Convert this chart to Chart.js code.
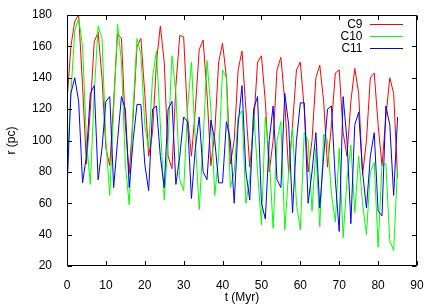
<!DOCTYPE html>
<html>
<head>
<meta charset="utf-8">
<script src="https://cdn.jsdelivr.net/npm/chart.js@4.4.1/dist/chart.umd.min.js"></script>
<style>
html,body{margin:0;padding:0;background:#fff;}
#wrap{width:436px;height:305px;}
</style>
</head>
<body>
<div id="wrap"><canvas id="c" width="436" height="305"></canvas></div>
<script>
const seriesNames = ["C9", "C10", "C11"];
const seriesColors = ["#ff0000", "#00ff00", "#0000ff"];
const xTicks = [0, 10, 20, 30, 40, 50, 60, 70, 80, 90];
const yTicks = [20, 40, 60, 80, 100, 120, 140, 160, 180];

const times = [0,1,2,3,4,5,6,7,8,9,10,11,12,13,14,15,16,17,18,19,20,21,22,23,24,25,26,27,28,29,
  30,31,32,33,34,35,36,37,38,39,40,41,42,43,44,45,46,47,48,49,50,51,52,53,54,55,56,57,58,59,
  60,61,62,63,64,65,66,67,68,69,70,71,72,73,74,75,76,77,78,79,80,81,82,83,84,85];

const c9 = [125,160,176,180,135,85,120,163,169,140,95,84,125,168,165,110,79,115,160,165,
  130,90,105,150,173,150,90,82,135,167,166,115,90,120,158,164,130,84,105,150,
  162,140,85,100,145,157,120,83,110,150,154,125,80,100,145,153,125,79,110,145,
  150,120,80,100,140,148,125,83,110,143,145,105,90,125,146,130,78,100,140,143,
  110,84,115,140,130,76];

const c10 = [80,130,170,178,160,100,72,130,173,165,100,65,120,174,150,85,59,120,165,155,
  110,95,140,157,110,62,100,154,130,75,68,120,150,100,56,100,151,120,65,90,
  145,140,70,80,115,119,60,75,119,80,46,115,90,44,100,112,43,80,108,60,
  43,105,100,55,95,45,104,100,66,48,95,38,75,97,54,90,60,40,80,86,
  32,85,85,36,30,83];

const c11 = [68,130,140,125,73,90,130,135,75,95,125,128,70,100,128,120,70,100,123,123,
  85,68,120,122,90,70,120,125,72,90,115,112,63,95,115,80,75,113,100,73,
  73,112,100,60,110,135,80,62,120,128,60,50,100,122,75,70,130,110,54,100,
  124,124,60,80,105,57,90,120,122,75,42,128,100,47,110,118,80,57,90,105,
  55,52,122,110,65,115];

const values = [c9, c10, c11];

const FONT = "'Liberation Sans', Arial, Helvetica, sans-serif";
const PLOT = {left: 67, right: 417, top: 15, bottom: 266};

const framePlugin = {
  id: 'frame',
  afterDatasetsDraw(chart) {
    const ctx = chart.ctx;
    const a = chart.chartArea;
    const xs = chart.scales.x, ys = chart.scales.y;
    ctx.save();
    ctx.strokeStyle = '#000';
    ctx.lineWidth = 1;
    ctx.beginPath();
    const L = Math.round(a.left) + 0.5, R = Math.round(a.right) - 0.5;
    const T = Math.round(a.top) + 0.5, B = Math.round(a.bottom) - 0.5;
    ctx.rect(L, T, R - L, B - T);
    const tl = 4.5;
    xTicks.forEach(v => {
      const px = Math.round(xs.getPixelForValue(v)) + 0.5;
      ctx.moveTo(px, B); ctx.lineTo(px, B - tl);
      ctx.moveTo(px, T); ctx.lineTo(px, T + tl);
    });
    yTicks.forEach(v => {
      const py = Math.round(ys.getPixelForValue(v)) + 0.5;
      ctx.moveTo(L, py); ctx.lineTo(L + tl, py);
      ctx.moveTo(R, py); ctx.lineTo(R - tl, py);
    });
    ctx.stroke();

    // legend
    ctx.font = '12px ' + FONT;
    ctx.textAlign = 'right';
    ctx.textBaseline = 'middle';
    chart.data.datasets.forEach((ds, i) => {
      const y = 24 + i * 12.2;
      ctx.fillStyle = '#000';
      ctx.fillText(ds.label, 362.5, y + 0.5);
      ctx.strokeStyle = ds.borderColor;
      ctx.beginPath();
      ctx.moveTo(370, Math.round(y) + 0.5);
      ctx.lineTo(403, Math.round(y) + 0.5);
      ctx.stroke();
    });
    ctx.restore();
  }
};

const datasets = seriesNames.map((name, i) => ({
  label: name,
  data: times.map((t, k) => ({x: t, y: values[i][k]})),
  borderColor: seriesColors[i],
  backgroundColor: seriesColors[i],
  borderWidth: 1,
  pointRadius: 0,
  tension: 0,
  fill: false,
  order: 2 - i
}));

new Chart(document.getElementById('c'), {
  type: 'line',
  data: {datasets},
  plugins: [framePlugin],
  options: {
    responsive: false,
    animation: false,
    events: [],
    layout: {padding: {left: 0, right: 436 - PLOT.right, top: PLOT.top, bottom: 0}},
    plugins: {legend: {display: false}, tooltip: {enabled: false}},
    scales: {
      x: {
        type: 'linear', min: 0, max: 90,
        afterBuildTicks(s) { s.ticks = xTicks.map(v => ({value: v})); },
        afterFit(s) { s.height = 305 - PLOT.bottom; },
        grid: {display: false},
        border: {display: false},
        ticks: {color: '#000', font: {family: FONT, size: 12}, padding: 4, maxRotation: 0},
        title: {display: true, text: 't (Myr)', color: '#000', font: {family: FONT, size: 12}, padding: {top: 2, bottom: 0}}
      },
      y: {
        type: 'linear', min: 20, max: 180,
        afterBuildTicks(s) { s.ticks = yTicks.map(v => ({value: v})); },
        afterFit(s) { s.width = PLOT.left; },
        grid: {display: false},
        border: {display: false},
        ticks: {color: '#000', font: {family: FONT, size: 12}, padding: 7},
        title: {display: true, text: 'r (pc)', color: '#000', font: {family: FONT, size: 12}, padding: {top: 4, bottom: 0}}
      }
    }
  }
});
</script>
</body>
</html>
